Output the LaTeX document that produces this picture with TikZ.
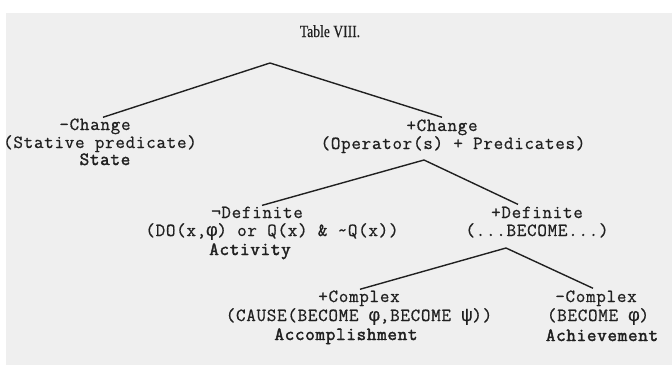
\documentclass[tikz,border=0pt]{standalone}
\usepackage{fontspec}
\setmainfont{Liberation Serif}
% typewriter faces: regular strokes slightly thickened, bold thickened more
\newfontfamily\typew[FakeBold=0.7,LetterSpace=4]{Latin Modern Mono}
\newfontfamily\typewbf[FakeBold=2.2,LetterSpace=4]{Latin Modern Mono}
\newfontfamily\greekmono[FakeBold=0.7]{Liberation Mono}
\newfontfamily\titlefont[FakeBold=0.5]{Liberation Serif}
\newcommand{\gphi}{{\greekmono φ}}
\newcommand{\gpsi}{{\greekmono ψ}}
\definecolor{paper}{RGB}{239,239,239}
\definecolor{ink}{RGB}{32,32,32}
\begin{document}
\begin{tikzpicture}[x=1pt, y=-1pt,
  lbl/.style={font=\typew\fontsize{18.5}{20}\selectfont, text=ink, inner sep=0pt, anchor=base},
  kind/.style={lbl, font=\typewbf\fontsize{18.5}{20}\selectfont},
  branch/.style={draw=ink, line width=1.4pt}]
  \useasboundingbox (0,0) rectangle (672,365);
  % sheet
  \fill[paper] (6,13) rectangle (672,365);

  \node[font=\titlefont\fontsize{17}{19}\selectfont, text=ink, inner sep=0pt, anchor=base] (title) at (330,37) {\scalebox{0.8}[1]{Table VIII.}};

  % left branch: states
  \node[lbl]  (minusC)  at (95,130)  {-Change};
  \node[lbl]  (stative) at (100,148) {(Stative predicate)};
  \node[kind] (state)   at (105,165) {State};

  % right branch: changes
  \node[lbl]  (plusC) at (442,131) {+Change};
  \node[lbl]  (oper)  at (453,149) {(Operator(s) + Predicates)};

  \node[lbl]  (negD)     at (257,218) {¬Definite};
  \node[lbl]  (doq)      at (272,236) {(DO(x,\gphi) or Q(x) \& \textasciitilde Q(x))};
  \node[kind] (activity) at (250,255) {Activity};

  \node[lbl]  (plusD)  at (537,218) {+Definite};
  \node[lbl]  (become) at (537,236) {(...BECOME...)};

  \node[lbl]  (plusCx) at (359,302) {+Complex};
  \node[lbl]  (cause)  at (359,321) {(CAUSE(BECOME \gphi,BECOME \gpsi))};
  \node[kind] (accomp) at (346,340) {Accomplishment};

  \node[lbl]  (minusCx) at (596,302) {-Complex};
  \node[lbl]  (becphi)  at (598,321) {(BECOME \gphi)};
  \node[kind] (achieve) at (602,341) {Achievement};

  % branching points
  \coordinate (top) at (270,63);
  \coordinate (mid) at (424,160);
  \coordinate (low) at (506,248);

  \draw[branch] ([xshift=8pt,yshift=1pt]minusC.north) -- (top) -- ([yshift=2pt]plusC.north);
  \draw[branch] ([xshift=5pt,yshift=1pt]negD.north) -- (mid) -- ([xshift=-19pt,yshift=2pt]plusD.north);
  \draw[branch] ([xshift=1pt,yshift=1pt]plusCx.north) -- (low) -- ([xshift=-3pt,yshift=2pt]minusCx.north);
\end{tikzpicture}
\end{document}
